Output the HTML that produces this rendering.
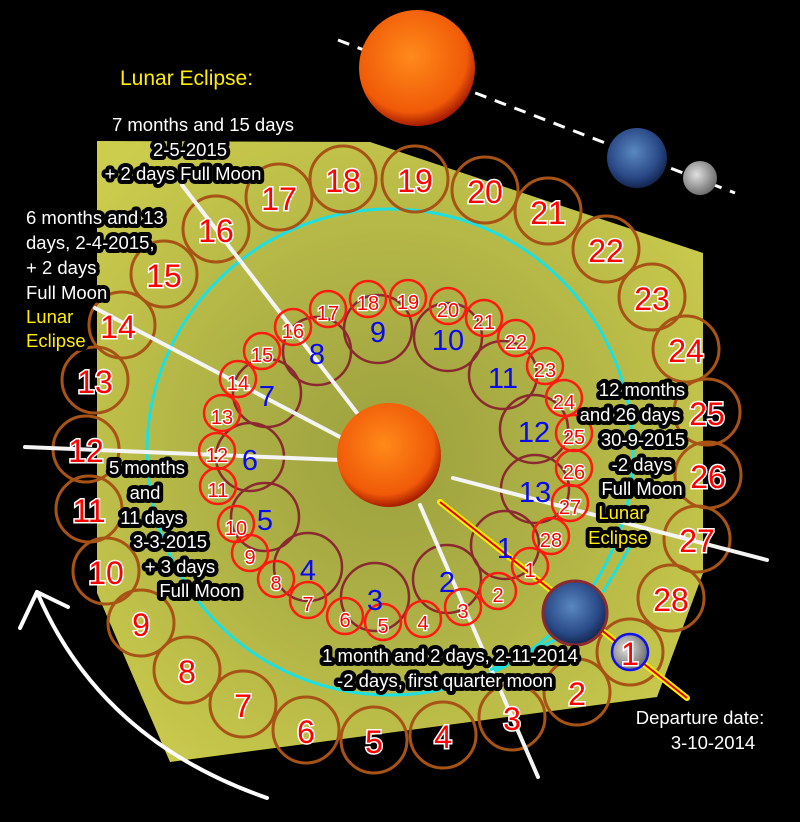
<!DOCTYPE html>
<html><head><meta charset="utf-8"><style>
html,body{margin:0;padding:0;background:#000;}
svg{display:block}
text{font-family:"Liberation Sans",sans-serif;}
.o{font-size:32px;fill:#ff0000;stroke:#fff;stroke-width:3;paint-order:stroke;text-anchor:middle;}
.m{font-size:20px;fill:#ff0000;stroke:#fff;stroke-width:2.5;paint-order:stroke;text-anchor:middle;}
.b{font-size:29px;fill:#0a0aee;text-anchor:middle;}
.l{font-size:18.5px;fill:#fff;stroke:#000;stroke-width:8;stroke-linejoin:round;paint-order:stroke;}
.y{fill:#ffee00;}
</style></head><body>
<svg width="800" height="822" viewBox="0 0 800 822" xmlns="http://www.w3.org/2000/svg">
<defs>
<radialGradient id="bg" cx="390" cy="455" r="400" gradientUnits="userSpaceOnUse">
<stop offset="0" stop-color="#b4b848"/><stop offset="0.45" stop-color="#c8cc50"/><stop offset="1" stop-color="#eaea58"/>
</radialGradient>
<filter id="tex" x="0" y="0" width="100%" height="100%">
<feTurbulence type="fractalNoise" baseFrequency="0.09 0.14" numOctaves="2" seed="3"/>
<feColorMatrix type="matrix" values="0 0 0 0 0  0 0 0 0 0  0 0 0 0 0  0 0 0 -0.6 0.4"/>
<feComposite in2="SourceGraphic" operator="in"/>
<feComposite in="SourceGraphic" operator="over"/>
</filter>
<radialGradient id="sun" cx="0.45" cy="0.4" r="0.6">
<stop offset="0" stop-color="#ff8a1a"/><stop offset="0.8" stop-color="#f05a08"/><stop offset="1" stop-color="#a81c00"/>
</radialGradient>
<radialGradient id="earth" cx="0.45" cy="0.4" r="0.6">
<stop offset="0" stop-color="#5a88c0"/><stop offset="0.7" stop-color="#2a4a88"/><stop offset="1" stop-color="#142650"/>
</radialGradient>
<radialGradient id="moon" cx="0.4" cy="0.4" r="0.6">
<stop offset="0" stop-color="#e0e0e0"/><stop offset="1" stop-color="#707070"/>
</radialGradient>
</defs>
<rect width="800" height="822" fill="#000"/>
<polygon points="97,141 370,142 703,253 703,573 657,697 170,762 97,593" fill="url(#bg)"/>
<polygon points="97,141 370,142 703,253 703,573 657,697 170,762 97,593" fill="#000" opacity="0.12" filter="url(#tex)"/>
<circle cx="390" cy="452" r="243" fill="none" stroke="#1ee0e0" stroke-width="3"/>
<line x1="338" y1="40" x2="735" y2="193" stroke="#fff" stroke-width="3" stroke-dasharray="12,9"/>
<circle cx="417" cy="68" r="58" fill="url(#sun)"/>
<circle cx="637" cy="158" r="30" fill="url(#earth)"/>
<circle cx="700" cy="178" r="17" fill="url(#moon)"/>
<text x="120" y="85" font-size="21" fill="#ffee00">Lunar Eclipse:</text>
<g fill="none" stroke="#a85316" stroke-width="3">
<circle cx="630" cy="652" r="33"/><circle cx="577" cy="692" r="33"/><circle cx="512" cy="717" r="33"/><circle cx="443" cy="735" r="33"/>
<circle cx="374" cy="740" r="33"/><circle cx="306" cy="730" r="33"/><circle cx="243" cy="704" r="33"/><circle cx="187" cy="670" r="33"/>
<circle cx="141" cy="623" r="33"/><circle cx="106" cy="571" r="33"/><circle cx="89" cy="509" r="33"/><circle cx="86" cy="449" r="33"/>
<circle cx="95" cy="380" r="33"/><circle cx="122" cy="325" r="33"/><circle cx="164" cy="274" r="33"/><circle cx="216" cy="229" r="33"/>
<circle cx="279" cy="197" r="33"/><circle cx="343" cy="179" r="33"/><circle cx="415" cy="179" r="33"/><circle cx="485" cy="190" r="33"/>
<circle cx="548" cy="211" r="33"/><circle cx="606" cy="249" r="33"/><circle cx="652" cy="297" r="33"/><circle cx="686" cy="349" r="33"/>
<circle cx="707" cy="412" r="33"/><circle cx="708" cy="475" r="33"/><circle cx="697" cy="539" r="33"/><circle cx="671" cy="598" r="33"/>
</g>
<g fill="none" stroke="#8a2a30" stroke-width="2.5">
<circle cx="505" cy="545" r="34"/><circle cx="447" cy="579" r="34"/><circle cx="375" cy="597" r="34"/><circle cx="308" cy="567" r="34"/>
<circle cx="265" cy="517" r="34"/><circle cx="250" cy="457" r="34"/><circle cx="267" cy="393" r="34"/><circle cx="317" cy="351" r="34"/>
<circle cx="378" cy="329" r="34"/><circle cx="448" cy="337" r="34"/><circle cx="503" cy="375" r="34"/><circle cx="534" cy="429" r="34"/>
<circle cx="535" cy="489" r="34"/>
</g>
<g stroke="#f4f4f4" stroke-width="4" stroke-linecap="round">
<line x1="182" y1="185" x2="357" y2="413"/>
<line x1="95" y1="308" x2="340" y2="437"/>
<line x1="25" y1="447" x2="340" y2="460"/>
<line x1="420" y1="505" x2="538" y2="777"/>
<line x1="453" y1="478" x2="767" y2="560"/>
</g>
<line x1="440" y1="502" x2="687" y2="698" stroke="#ffee00" stroke-width="6" stroke-linecap="round"/>
<line x1="440" y1="502" x2="687" y2="698" stroke="#e00000" stroke-width="2"/>
<g stroke="#1ee0e0" stroke-width="3"><line x1="630" y1="547" x2="603" y2="592"/><line x1="555" y1="640" x2="490" y2="670"/></g>
<g fill="none" stroke="#ff1a10" stroke-width="2.5">
<circle cx="530" cy="566" r="18"/><circle cx="498" cy="591" r="18"/><circle cx="463" cy="607" r="18"/><circle cx="423" cy="619" r="18"/>
<circle cx="383" cy="622" r="18"/><circle cx="345" cy="616" r="18"/><circle cx="308" cy="600" r="18"/><circle cx="276" cy="579" r="18"/>
<circle cx="250" cy="553" r="18"/><circle cx="236" cy="524" r="18"/><circle cx="218" cy="486" r="18"/><circle cx="217" cy="451" r="18"/>
<circle cx="222" cy="413" r="18"/><circle cx="238" cy="379" r="18"/><circle cx="262" cy="351" r="18"/><circle cx="293" cy="327" r="18"/>
<circle cx="328" cy="309" r="18"/><circle cx="368" cy="299" r="18"/><circle cx="408" cy="298" r="18"/><circle cx="448" cy="306" r="18"/>
<circle cx="484" cy="318" r="18"/><circle cx="516" cy="338" r="18"/><circle cx="545" cy="366" r="18"/><circle cx="564" cy="398" r="18"/>
<circle cx="574" cy="433" r="18"/><circle cx="574" cy="468" r="18"/><circle cx="570" cy="503" r="18"/><circle cx="551" cy="536" r="18"/>
</g>
<circle cx="389" cy="455" r="52" fill="url(#sun)"/>
<circle cx="575" cy="613" r="32" fill="url(#earth)" stroke="#8a2a30" stroke-width="3"/>
<circle cx="630" cy="652" r="18" fill="url(#moon)" stroke="#1010ee" stroke-width="2.5"/>
<g class="o">
<text x="630" y="665">1</text><text x="577" y="705">2</text><text x="512" y="730">3</text><text x="443" y="748">4</text>
<text x="374" y="753">5</text><text x="306" y="743">6</text><text x="243" y="717">7</text><text x="187" y="683">8</text>
<text x="141" y="636">9</text><text x="106" y="584">10</text><text x="89" y="522">11</text><text x="86" y="462">12</text>
<text x="95" y="393">13</text><text x="118" y="338">14</text><text x="164" y="287">15</text><text x="216" y="242">16</text>
<text x="279" y="210">17</text><text x="343" y="192">18</text><text x="415" y="192">19</text><text x="485" y="203">20</text>
<text x="548" y="224">21</text><text x="606" y="262">22</text><text x="652" y="310">23</text><text x="686" y="362">24</text>
<text x="707" y="425">25</text><text x="708" y="488">26</text><text x="697" y="552">27</text><text x="671" y="611">28</text>
</g>
<g class="m">
<text x="530" y="577">1</text><text x="498" y="602">2</text><text x="463" y="618">3</text><text x="423" y="630">4</text>
<text x="383" y="633">5</text><text x="345" y="627">6</text><text x="308" y="611">7</text><text x="276" y="590">8</text>
<text x="250" y="564">9</text><text x="236" y="535">10</text><text x="218" y="497">11</text><text x="217" y="462">12</text>
<text x="222" y="424">13</text><text x="238" y="390">14</text><text x="262" y="362">15</text><text x="293" y="338">16</text>
<text x="328" y="320">17</text><text x="368" y="310">18</text><text x="408" y="309">19</text><text x="448" y="317">20</text>
<text x="484" y="329">21</text><text x="516" y="349">22</text><text x="545" y="377">23</text><text x="564" y="409">24</text>
<text x="574" y="444">25</text><text x="574" y="479">26</text><text x="570" y="514">27</text><text x="551" y="547">28</text>
</g>
<g class="b">
<text x="505" y="558">1</text><text x="447" y="592">2</text><text x="375" y="610">3</text><text x="308" y="580">4</text>
<text x="265" y="530">5</text><text x="250" y="470">6</text><text x="267" y="406">7</text><text x="317" y="364">8</text>
<text x="378" y="342">9</text><text x="448" y="350">10</text><text x="503" y="388">11</text><text x="534" y="442">12</text>
<text x="535" y="502">13</text>
</g>
<g class="l" text-anchor="middle">
<text x="203" y="131">7 months and 15 days</text>
<text x="190" y="156">2-5-2015</text>
<text x="183" y="180">+ 2 days  Full Moon</text>
<text x="147" y="474">5 months</text>
<text x="145" y="499">and</text>
<text x="152" y="524">11 days</text>
<text x="170" y="548">3-3-2015</text>
<text x="180" y="573">+ 3  days</text>
<text x="200" y="597">Full Moon</text>
<text x="642" y="396">12 months</text>
<text x="630" y="421">and 26 days</text>
<text x="643" y="446">30-9-2015</text>
<text x="642" y="471">-2 days</text>
<text x="642" y="495">Full Moon</text>
<text x="622" y="519" class="y">Lunar</text>
<text x="618" y="544" class="y">Eclipse</text>
<text x="450" y="662">1 month and 2 days,  2-11-2014</text>
<text x="445" y="687">-2 days,  first quarter moon</text>
<text x="700" y="724">Departure date:</text>
<text x="713" y="749">3-10-2014</text>
</g>
<g class="l">
<text x="26" y="224">6 months and 13</text>
<text x="26" y="249">days, 2-4-2015,</text>
<text x="26" y="274">+ 2 days</text>
<text x="26" y="299">Full Moon</text>
<text x="26" y="323" class="y">Lunar</text>
<text x="26" y="347" class="y">Eclipse</text>
</g>
<path d="M267,798 Q100,740 37,592" fill="none" stroke="#fff" stroke-width="4" stroke-linecap="round"/>
<polyline points="20,628 37,592 68,607" fill="none" stroke="#fff" stroke-width="4" stroke-linecap="round" stroke-linejoin="round"/>
</svg>
</body></html>
